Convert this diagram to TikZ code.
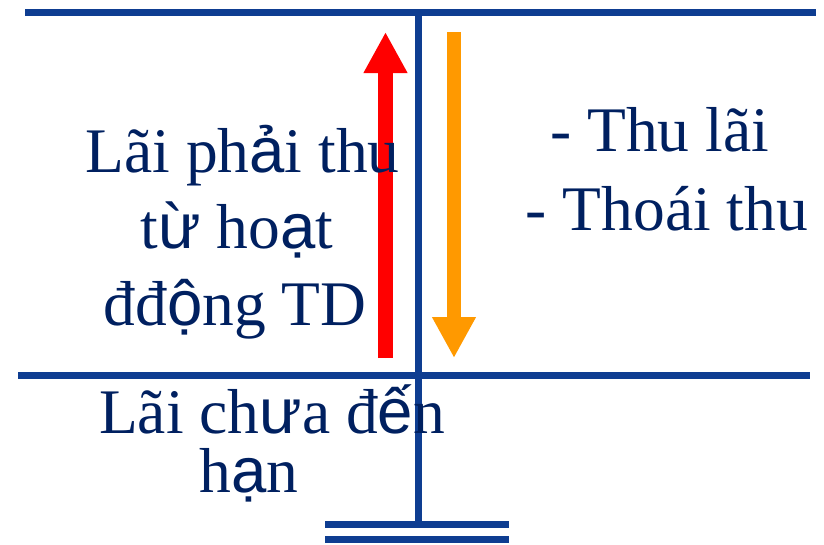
\documentclass[tikz,border=0pt]{standalone}
\usepackage{fontspec}
\setmainfont{Liberation Serif}
\newfontfamily\altfont{Liberation Sans}
\newcommand{\sa}[1]{{\altfont #1}}
\usetikzlibrary{arrows.meta}
\definecolor{lineblue}{RGB}{14,61,145}
\definecolor{textnavy}{RGB}{0,32,96}
\definecolor{arrred}{RGB}{255,0,0}
\definecolor{arrorange}{RGB}{255,153,0}
\begin{document}
\begin{tikzpicture}[x=1pt,y=-1pt,
  rule/.style={draw=lineblue,line width=7.5pt,line cap=butt},
  lbl/.style={text=textnavy,font=\fontsize{63.5}{76}\selectfont,anchor=base,inner sep=0pt},
  bigarrow/.style={line width=14.5pt,line cap=butt,-{Triangle[length=41pt,width=41pt]}}]
\useasboundingbox (0,0) rectangle (824,544);
% coordinates
\coordinate (tl) at (25,12.5);
\coordinate (tr) at (816,12.5);
\coordinate (ml) at (18,375.5);
\coordinate (mr) at (810,375.5);
\coordinate (vt) at (418.5,9);
\coordinate (vb) at (418.5,524.5);
\coordinate (b1l) at (325,524.5);
\coordinate (b1r) at (509,524.5);
\coordinate (b2l) at (325,539.5);
\coordinate (b2r) at (509,539.5);
\coordinate (rs) at (385.5,358);
\coordinate (rt) at (385.5,32);
\coordinate (os) at (454,32);
\coordinate (ot) at (454,358);
% rules
\draw[rule] (tl) -- (tr);
\draw[rule] (ml) -- (mr);
\draw[rule] (vt) -- (vb);
\draw[rule] (b1l) -- (b1r);
\draw[rule] (b2l) -- (b2r);
% arrows
\draw[bigarrow,draw=arrred,fill=arrred] (rs) -- (rt);
\draw[bigarrow,draw=arrorange,fill=arrorange] (os) -- (ot);
% texts
\node[lbl] (l1) at (242.5,172) {Lãi ph\sa{ả}i thu};
\node[lbl] (l2) at (237,248) {t\sa{ừ} ho\sa{ạ}t};
\node[lbl] (l3) at (235,325) {đđ\sa{ộ}ng TD};
\node[lbl] (r1) at (659.5,151) {- Thu lãi};
\node[lbl] (r2) at (667,230) {- Thoái thu};
\node[lbl] (b1) at (272,433) {Lãi ch\sa{ư}a đ\sa{ế}n};
\node[lbl] (b2) at (249,492) {h\sa{ạ}n};
\end{tikzpicture}
\end{document}
